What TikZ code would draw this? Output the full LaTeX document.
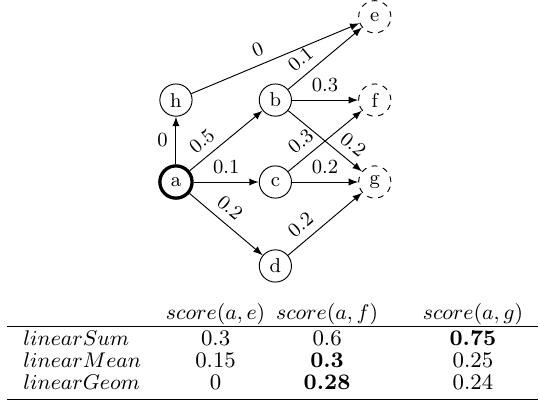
\documentclass[tikz,border=0pt]{standalone}
\usepackage{tikz}
\usetikzlibrary{arrows}

\begin{document}
\begin{tikzpicture}[scale=1.0,
		vert/.style={circle,draw,minimum size=0.48cm,inner sep=0pt,font=\fontsize{8.5}{10}\selectfont},
		seed/.style={vert,line width=1.4pt},
		cand/.style={vert,dash pattern=on 2.4pt off 2.4pt},
		wt/.style={font=\fontsize{8.5}{10}\selectfont},
		cell/.style={anchor=base,inner sep=0pt,font=\fontsize{9.4}{11}\selectfont},
		>=latex]
			\useasboundingbox (-2.62,-3.276) rectangle (5.42,2.71);

			% vertices
			\node [seed] (a) at (0,0) {a};
			\node [vert] (h) at (0,1.22) {h};
			\node [vert] (b) at (1.48,1.22) {b};
			\node [vert] (c) at (1.48,0) {c};
			\node [vert] (d) at (1.48,-1.25) {d};
			\node [cand] (e) at (2.96,2.46) {e};
			\node [cand] (f) at (2.96,1.22) {f};
			\node [cand] (g) at (2.96,0) {g};

			% weighted edges
			\draw [->] (a) -- (h) node [wt,midway,left] {0};
			\draw [->] (a) -- (b) node [wt,pos=0.3,sloped,above] {0.5};
			\draw [->] (a) -- (c) node [wt,midway,above] {0.1};
			\draw [->] (a) -- (d) node [wt,pos=0.42,sloped,above] {0.2};
			\draw [->] (h) -- (e) node [wt,pos=0.43,sloped,above] {0};
			\draw [->] (b) -- (e) node [wt,pos=0.3,sloped,above] {0.1};
			\draw [->] (b) -- (f) node [wt,midway,above] {0.3};
			\draw [->] (b) -- (g) node [wt,pos=0.75,sloped,above] {0.2};
			\draw [->] (c) -- (f) node [wt,pos=0.3,sloped,above] {0.3};
			\draw [->] (c) -- (g) node [wt,midway,above] {0.2};
			\draw [->] (d) -- (g) node [wt,pos=0.3,sloped,above] {0.2};

			% score table
			\node [cell] (se) at (0.590,-2.043) {$score(a,e)$};
			\node [cell] (sf) at (2.250,-2.043) {$score(a,f)$};
			\node [cell] (sg) at (4.422,-2.043) {$score(a,g)$};
			\draw [line width=0.6pt] (-2.516,-2.155) -- (5.39,-2.155);

			\node [cell,anchor=base west] (sum) at (-2.28,-2.427) {$linearSum$};
			\node [cell] (sume) at (0.590,-2.427) {0.3};
			\node [cell] (sumf) at (2.250,-2.427) {0.6};
			\node [cell] (sumg) at (4.422,-2.427) {\textbf{0.75}};

			\node [cell,anchor=base west] (mean) at (-2.28,-2.759) {$linearMean$};
			\node [cell] (meane) at (0.590,-2.759) {0.15};
			\node [cell] (meanf) at (2.250,-2.759) {\textbf{0.3}};
			\node [cell] (meang) at (4.422,-2.759) {0.25};

			\node [cell,anchor=base west] (geom) at (-2.28,-3.087) {$linearGeom$};
			\node [cell] (geome) at (0.590,-3.087) {0};
			\node [cell] (geomf) at (2.250,-3.087) {\textbf{0.28}};
			\node [cell] (geomg) at (4.422,-3.087) {0.24};
			\draw [line width=0.6pt] (-2.516,-3.239) -- (5.39,-3.239);
		\end{tikzpicture}
\end{document}
